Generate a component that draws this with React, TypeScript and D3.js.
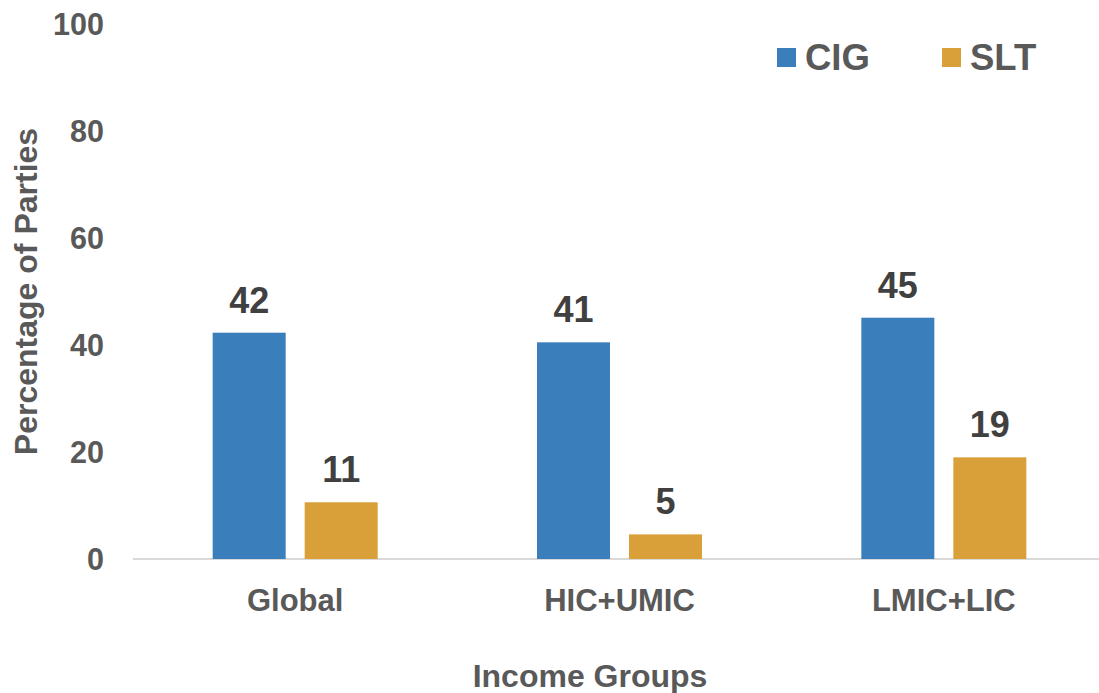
import React from "react";
import * as d3 from "d3";

const categories = ["Global", "HIC+UMIC", "LMIC+LIC"];
const seriesNames = ["CIG", "SLT"];
const cigValues = [42.3, 40.5, 45.1];
const sltValues = [10.6, 4.6, 19.0];
const yTicks = [0, 20, 40, 60, 80, 100];
const colors = ["#3A7FBB", "#D99F38"];

const W = 1099;
const H = 693;
const FONT = "Liberation Sans, Arial, sans-serif";

export default function App() {
  const x = d3.scaleBand<string>().domain(categories).range([133, 1106]).paddingInner(0).paddingOuter(0);
  const inner = d3.scaleBand<string>().domain(seriesNames).range([0, 165]).paddingInner(19 / 92).paddingOuter(0);
  const y = d3.scaleLinear().domain([0, 100]).range([559, 24]);
  const series = [cigValues, sltValues];
  const groupOffset = (x.bandwidth() - 165) / 2;
  const fmt = d3.format(".0f");

  return (
    <svg width={W} height={H} style={{ display: "block", position: "absolute", left: 0, top: 0 }} fontFamily={FONT}>
      <rect width={W} height={H} fill="#fff" />
      {yTicks.map((t) => (
        <text key={t} x={104} y={y(t)} dy="0.35em" textAnchor="end" fontSize={30.5} fontWeight="bold" fill="#595959">
          {t}
        </text>
      ))}
      <line x1={133} x2={W} y1={y(0)} y2={y(0)} stroke="#D9D9D9" strokeWidth={2} />
      {categories.map((c, i) => (
        <g key={c}>
          {seriesNames.map((s, j) => {
            const v = series[j][i];
            const bx = (x(c) as number) + groupOffset + (inner(s) as number);
            return (
              <g key={s}>
                <rect x={bx} y={y(v)} width={inner.bandwidth()} height={y(0) - y(v)} fill={colors[j]} />
                <text x={bx + inner.bandwidth() / 2} y={y(v) - 20} textAnchor="middle" fontSize={36} fontWeight="bold" fill="#404040">
                  {fmt(v)}
                </text>
              </g>
            );
          })}
          <text x={(x(c) as number) + x.bandwidth() / 2} y={600} dy="0.35em" textAnchor="middle" fontSize={31} fontWeight="bold" fill="#595959">
            {c}
          </text>
        </g>
      ))}
      <text x={590} y={676} dy="0.35em" textAnchor="middle" fontSize={32} fontWeight="bold" fill="#595959">
        Income Groups
      </text>
      <text transform={`translate(26,${(y(0) + y(100)) / 2}) rotate(-90)`} dy="0.35em" textAnchor="middle" fontSize={32} fontWeight="bold" fill="#595959">
        Percentage of Parties
      </text>
      {seriesNames.map((s, j) => {
        const lx = [777, 942][j];
        return (
          <g key={s}>
            <rect x={lx} y={48} width={19} height={19} fill={colors[j]} />
            <text x={lx + 28} y={57.5} dy="0.35em" fontSize={36.5} fontWeight="bold" fill="#595959">
              {s}
            </text>
          </g>
        );
      })}
    </svg>
  );
}
